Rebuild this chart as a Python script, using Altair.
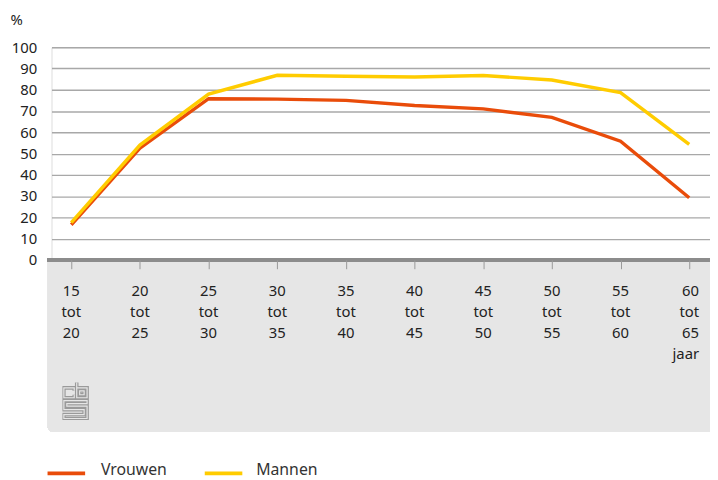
import altair as alt
import pandas as pd
import urllib.parse

categories = ["15 tot 20", "20 tot 25", "25 tot 30", "30 tot 35", "35 tot 40",
              "40 tot 45", "45 tot 50", "50 tot 55", "55 tot 60", "60 tot 65"]
vrouwen = [16.5, 52.5, 75.8, 75.6, 75.0, 72.6, 71.0, 67.0, 55.8, 29.2]
mannen = [17.5, 54.0, 78.0, 86.8, 86.4, 86.0, 86.7, 84.6, 78.7, 54.3]
series = ["Vrouwen", "Mannen"]
colors = ["#E94C0A", "#FFCC00"]
y_ticks = list(range(0, 101, 10))
unit = "jaar"

FONT = "Noto Sans"
TXT = "#222222"
W, H = 666, 215

rows = []
for i, c in enumerate(categories):
    rows.append({"idx": i, "cat": c, "serie": series[0], "val": vrouwen[i]})
    rows.append({"idx": i, "cat": c, "serie": series[1], "val": mannen[i]})
df = pd.DataFrame(rows)

lab = pd.DataFrame({
    "idx": list(range(len(categories))),
    "label": [c.replace(" ", "\n") + ("\n" + unit if i == len(categories) - 1 else "")
              for i, c in enumerate(categories)],
})

xscale = alt.Scale(domain=[-0.288, 9.303], nice=False, zero=False)
yscale = alt.Scale(domain=[0, 100], nice=False)

xaxis = alt.Axis(values=list(range(len(categories))), labels=False, domain=False,
                 grid=False, ticks=True, tickSize=9, tickColor="#999999",
                 tickWidth=1, title=None, zindex=1)
yaxis = alt.Axis(values=y_ticks, tickCount=11, grid=True, gridColor="#a8a8a8",
                 gridWidth=1.3, domain=False, ticks=False, labelPadding=15,
                 labelFontSize=15, labelOverlap=False, labelFont=FONT, labelColor=TXT,
                 title="%", titleAngle=0, titleAlign="left", titleBaseline="alphabetic",
                 titleX=-42, titleY=-23, titleFont=FONT, titleFontSize=15,
                 titleFontWeight="normal", titleColor=TXT)

X = alt.X("idx:Q", scale=xscale, axis=xaxis)
Y = alt.Y("val:Q", scale=yscale, axis=yaxis)

base = alt.Chart(df)

panel = alt.Chart(df).mark_rect(color="#e6e6e6", cornerRadiusBottomLeft=6,
                                cornerRadiusBottomRight=6).encode(
    x=alt.value(-4), x2=alt.value(W + 10), y=alt.value(H), y2=alt.value(H + 174))

grid = base.mark_line(opacity=0).encode(x=X, y=Y)

zero = alt.Chart(df).mark_rule(color="#8c8c8c", strokeWidth=3.4).encode(
    x=alt.value(-4), x2=alt.value(W + 10),
    y=alt.YDatum(0, scale=yscale, axis=yaxis))

lines = []
for s, col in zip(series, colors):
    lines.append(base.transform_filter(alt.datum.serie == s).mark_line(
        color=col, strokeWidth=3.5, strokeJoin="miter").encode(x=X, y=Y))

n = len(categories)
xlab_c = alt.Chart(lab).transform_filter(alt.datum.idx < n - 1).mark_text(
    lineBreak="\n", lineHeight=21, baseline="top", align="center", font=FONT,
    fontSize=15, color=TXT).encode(x=X, y=alt.value(240), text="label:N")
xlab_r = alt.Chart(lab).transform_filter(alt.datum.idx == n - 1).mark_text(
    lineBreak="\n", lineHeight=21, baseline="top", align="right", dx=10, font=FONT,
    fontSize=15, color=TXT).encode(x=X, y=alt.value(240), text="label:N")

logo_path = ("M12 9.5 V6.5 H1.5 V16.5 H12 V13.5 M14.5 1 V16.5 H25 V6.5 H14.5 "
             "M17.5 9.5 H22 V13.5 H17.5 Z "
             "M25 19.5 H1.5 V28.5 H22 V33.5 H1.5 V37.5 H25 V25 H4.5 V22.5 H25 Z")
logo_svg = (
    "<svg xmlns='http://www.w3.org/2000/svg' width='27' height='39' viewBox='0 0 27 39'>"
    "<g fill='none' stroke-linejoin='miter'>"
    f"<path d='{logo_path}' stroke='#9a9a9a' stroke-width='3.6'/>"
    f"<path d='{logo_path}' stroke='#e6e6e6' stroke-width='1.2'/>"
    "</g></svg>"
)
logo_url = "data:image/svg+xml;charset=utf-8," + urllib.parse.quote(logo_svg)
logo = alt.Chart(lab).transform_filter(alt.datum.idx == 0).mark_image(
    width=27, height=39, align="left", baseline="top").encode(
    x=alt.value(11), y=alt.value(338), url=alt.value(logo_url))

leg = []
for s, col, x0, xt in zip(series, colors, [-4, 155], [50, 207]):
    leg.append(alt.Chart(lab).transform_filter(alt.datum.idx == 0).mark_rule(
        color=col, strokeWidth=4).encode(x=alt.value(x0), x2=alt.value(x0 + 38),
                                         y=alt.value(431)))
    leg.append(alt.Chart(lab).transform_filter(alt.datum.idx == 0).mark_text(
        text=s, align="left", baseline="alphabetic", font=FONT, fontSize=16,
        color="#333333").encode(x=alt.value(xt), y=alt.value(433)))

chart = alt.layer(panel, grid, zero, *lines, xlab_c, xlab_r, logo, *leg).properties(
    width=W, height=H,
    autosize=alt.AutoSizeParams(type="none"),
    padding={"left": 44, "top": 37, "right": 0, "bottom": 220},
).configure_view(stroke=None).configure(background="white")

chart.save("out.html", embed_options={"renderer": "svg", "actions": False})
